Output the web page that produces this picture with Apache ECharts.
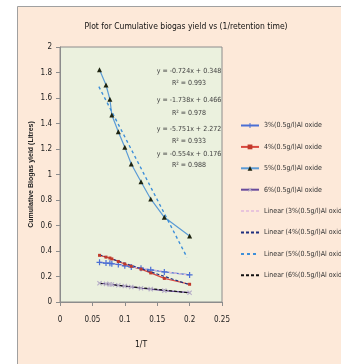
<!DOCTYPE html>
<html>
<head>
<meta charset="utf-8">
<script src="https://cdn.jsdelivr.net/npm/echarts@6/dist/echarts.min.js"></script>
<style>
html,body{margin:0;padding:0;background:#fff;}
#c{width:341px;height:364px;}
</style>
</head>
<body>
<div id="c"></div>
<script>
const FONT = '"Liberation Sans Narrow","DejaVu Sans Condensed","Liberation Sans",sans-serif';

const titleText = 'Plot for Cumulative biogas yield vs (1/retention time)';
const xAxisName = '1/T';
const yAxisName = 'Cumulative Biogas yield (Litres)';

const xVals = [0.061, 0.071, 0.077, 0.080, 0.090, 0.100, 0.110, 0.125, 0.140, 0.161, 0.200];
const y3 = [0.311, 0.305, 0.303, 0.300, 0.294, 0.284, 0.275, 0.265, 0.252, 0.236, 0.212];
const y4 = [0.366, 0.352, 0.345, 0.338, 0.318, 0.298, 0.280, 0.258, 0.228, 0.185, 0.139];
const y5 = [1.822, 1.702, 1.590, 1.467, 1.336, 1.213, 1.082, 0.943, 0.808, 0.664, 0.518];
const y6 = [0.147, 0.142, 0.139, 0.137, 0.131, 0.125, 0.118, 0.108, 0.101, 0.089, 0.073];

const trend3X = [0.061, 0.200], trend3Y = [0.314, 0.210];
const trend4X = [0.061, 0.200], trend4Y = [0.370, 0.135];
const trend5X = [0.060, 0.196], trend5Y = [1.689, 0.350];
const trend6X = [0.061, 0.200], trend6Y = [0.146, 0.072];

const seriesNames = ['3%(0.5g/l)Al oxide', '4%(0.5g/l)Al oxide', '5%(0.5g/l)Al oxide', '6%(0.5g/l)Al oxide'];
const trendNames = ['Linear (3%(0.5g/l)Al oxide)', 'Linear (4%(0.5g/l)Al oxide)', 'Linear (5%(0.5g/l)Al oxide)', 'Linear (6%(0.5g/l)Al oxide)'];

const equations = ['y = -0.724x + 0.348', 'R² = 0.993', 'y = -1.738x + 0.466', 'R² = 0.978',
                   'y = -5.751x + 2.272', 'R² = 0.933', 'y = -0.554x + 0.176', 'R² = 0.988'];

function pairs(xs, ys) { return xs.map((x, i) => [x, ys[i]]); }

const PLUS = 'path://M4,0H6V4H10V6H6V10H4V6H0V4H4Z';

const chart = echarts.init(document.getElementById('c'), null, {renderer: 'canvas'});

const eqY = [71, 83, 100, 113, 129, 141, 154, 165];
const graphics = [
  {type: 'rect', z: -10, shape: {x: 17.5, y: 6.5, width: 340, height: 370},
   style: {fill: '#FDE9D9', stroke: '#A0A0A0', lineWidth: 1}}
];
equations.forEach((t, i) => {
  graphics.push({type: 'text', z: 10, x: 189, y: eqY[i],
    style: {text: t, fill: '#404040', font: '7px ' + FONT, textAlign: 'center', textVerticalAlign: 'middle'}});
});

const legendData = seriesNames.map(n => ({name: n}))
  .concat(trendNames.map(n => ({name: n, itemStyle: {opacity: 0}})));

const option = {
  animation: false,
  backgroundColor: 'transparent',
  title: {
    text: titleText, left: 181, top: 17, textAlign: 'center',
    textStyle: {fontFamily: FONT, fontSize: 8.5, fontWeight: 'normal', color: '#111'}
  },
  graphic: graphics,
  grid: {left: 60, right: 119, top: 47, bottom: 62, show: true,
         backgroundColor: '#EBF1DE', borderColor: '#8C8C8C', borderWidth: 1},
  legend: {
    orient: 'vertical', left: 240, top: 122, padding: 0, itemWidth: 18, itemHeight: 6, itemGap: 14.4,
    textStyle: {fontFamily: FONT, fontSize: 7, color: '#333'},
    data: legendData
  },
  xAxis: {
    type: 'value', min: 0, max: 0.25, interval: 0.05,
    name: xAxisName, nameLocation: 'middle', nameGap: 38,
    nameTextStyle: {fontFamily: FONT, fontSize: 8.5, color: '#111'},
    axisLine: {show: true, onZero: false, lineStyle: {color: '#8C8C8C'}},
    axisTick: {show: true, length: 4, lineStyle: {color: '#8C8C8C'}},
    axisLabel: {fontFamily: FONT, fontSize: 8, color: '#222', margin: 14},
    splitLine: {show: false}
  },
  yAxis: {
    type: 'value', min: 0, max: 2, interval: 0.2,
    name: yAxisName, nameLocation: 'middle', nameGap: 25, nameRotate: 90,
    nameTextStyle: {fontFamily: '"Liberation Sans","DejaVu Sans",sans-serif', fontSize: 7, fontWeight: 'bold', color: '#222'},
    axisLine: {show: true, lineStyle: {color: '#8C8C8C'}},
    axisTick: {show: true, length: 4, lineStyle: {color: '#8C8C8C'}},
    axisLabel: {fontFamily: FONT, fontSize: 8, color: '#222', margin: 8},
    splitLine: {show: false}
  },
  series: [
    {name: seriesNames[0], type: 'line', data: pairs(xVals, y3),
     symbol: PLUS, symbolSize: 6, showAllSymbol: true,
     lineStyle: {color: '#4A6FD4', width: 1.2}, itemStyle: {color: '#4A6FD4'}},
    {name: seriesNames[1], type: 'line', data: pairs(xVals, y4),
     symbol: 'rect', symbolSize: 3, showAllSymbol: true,
     lineStyle: {color: '#D9483F', width: 1.2}, itemStyle: {color: '#C0392B'}},
    {name: seriesNames[2], type: 'line', data: pairs(xVals, y5),
     symbol: 'triangle', symbolSize: 5, showAllSymbol: true,
     lineStyle: {color: '#5B9BD5', width: 1.2}, itemStyle: {color: '#1E2410'}},
    {name: seriesNames[3], type: 'line', data: pairs(xVals, y6),
     symbol: PLUS, symbolRotate: 45, symbolSize: 6, showAllSymbol: true,
     lineStyle: {color: '#6A4C9C', width: 1.2}, itemStyle: {color: '#B8B0C8'}},
    {name: trendNames[0], type: 'line', data: pairs(trend3X, trend3Y), symbol: 'none',
     lineStyle: {color: '#E8C4DC', width: 1.2, type: [3, 2]}, itemStyle: {color: '#E8C4DC'}},
    {name: trendNames[1], type: 'line', data: pairs(trend4X, trend4Y), symbol: 'none',
     lineStyle: {color: '#1F2F7F', width: 1.2, type: [3, 2]}, itemStyle: {color: '#1F2F7F'}},
    {name: trendNames[2], type: 'line', data: pairs(trend5X, trend5Y), symbol: 'none',
     lineStyle: {color: '#3D8FD9', width: 1.4, type: [3, 3]}, itemStyle: {color: '#3D8FD9'}},
    {name: trendNames[3], type: 'line', data: pairs(trend6X, trend6Y), symbol: 'none',
     lineStyle: {color: '#111111', width: 1.2, type: [3, 2]}, itemStyle: {color: '#111111'}}
  ]
};
chart.setOption(option);
</script>
</body>
</html>
